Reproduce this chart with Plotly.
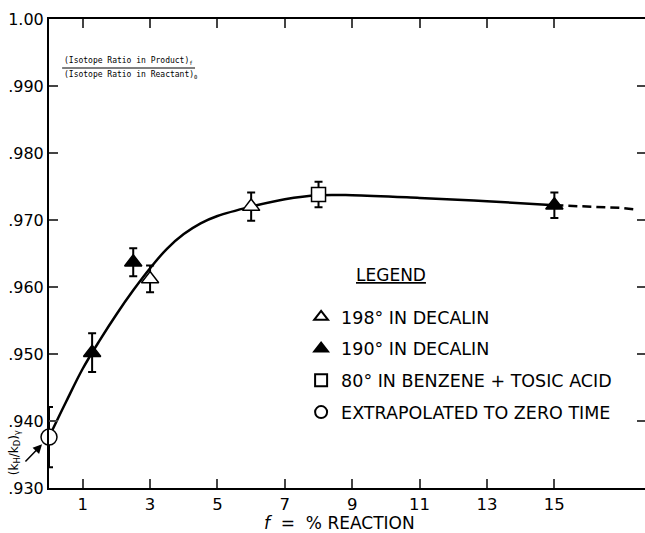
import plotly.graph_objects as go

# ---- data ----
x_198 = [3.0, 6.0]
y_198 = [0.9612, 0.9720]
e_198 = [0.0020, 0.0021]

x_190 = [1.28, 2.5, 15.0]
y_190 = [0.9502, 0.9637, 0.9722]
e_190 = [0.0029, 0.0021, 0.0019]

x_80 = [8.0]
y_80 = [0.9738]
e_80 = [0.0019]

x_ext = [0.0]
y_ext = [0.9376]
e_ext = [0.0045]

curve_x = [0.0, 0.5, 1.0, 1.5, 2.0, 2.5, 3.0, 3.5, 4.0, 4.5, 5.0, 6.0, 7.0, 8.0, 9.0, 11.0, 13.0, 15.0]
curve_y = [0.9376, 0.9428, 0.9478, 0.9520, 0.9559, 0.9595, 0.9628, 0.9657, 0.9679, 0.9695, 0.9706, 0.9720, 0.9731, 0.9737, 0.9737, 0.9733, 0.9728, 0.9722]
dash_x = [15.0, 16.0, 17.0, 17.35]
dash_y = [0.9722, 0.9720, 0.9718, 0.9716]

y_ticks = [0.930, 0.940, 0.950, 0.960, 0.970, 0.980, 0.990, 1.000]
y_ticklabels = [".930", ".940", ".950", ".960", ".970", ".980", ".990", "1.00"]
x_ticks = [1, 3, 5, 7, 9, 11, 13, 15]

names = ["198° IN DECALIN", "190° IN DECALIN", "80° IN BENZENE + TOSIC ACID", "EXTRAPOLATED TO ZERO TIME"]

FONT = "DejaVu Sans"

fig = go.Figure()

fig.add_trace(go.Scatter(x=curve_x, y=curve_y, mode="lines", line=dict(color="black", width=2.5, shape="spline"),
                         showlegend=False, hoverinfo="skip", cliponaxis=False))
fig.add_trace(go.Scatter(x=dash_x, y=dash_y, mode="lines", line=dict(color="black", width=2.5, dash="9px,5px"),
                         showlegend=False, hoverinfo="skip", cliponaxis=False))

def pts(x, y, e, name, symbol, fill, size, grp):
    return go.Scatter(
        x=x, y=y, mode="markers", name=name, legendgroup=grp,
        marker=dict(symbol=symbol, size=size, color=fill, line=dict(color="black", width=1.5)),
        error_y=dict(type="data", array=e, visible=True, color="black", thickness=2, width=4),
        cliponaxis=False,
    )

fig.add_trace(pts(x_198, y_198, e_198, names[0], "triangle-up", "white", 15, "a"))
fig.add_trace(pts(x_190, y_190, e_190, names[1], "triangle-up", "black", 15, "b"))
fig.add_trace(pts(x_80, y_80, e_80, names[2], "square", "white", 14, "c"))
fig.add_trace(pts(x_ext, y_ext, e_ext, names[3], "circle", "white", 16, "d"))

# invisible trace to carry right-hand ticks
fig.add_trace(go.Scatter(x=[None], y=[None], yaxis="y2", showlegend=False, hoverinfo="skip"))

fig.update_layout(
    width=645, height=533,
    margin=dict(l=49, r=0, t=19, b=45, autoexpand=False),
    paper_bgcolor="white", plot_bgcolor="white",
    font=dict(family=FONT, color="black", size=16),
    xaxis=dict(range=[0, 17.69], tickvals=x_ticks, ticks="inside", ticklen=9, tickwidth=1.5,
               showline=True, linecolor="black", linewidth=2, mirror="ticks", showgrid=False,
               zeroline=False, tickfont=dict(size=16.5, family=FONT), automargin=False),
    yaxis=dict(range=[0.930, 1.000], tickvals=y_ticks, ticktext=y_ticklabels, ticks="inside",
               ticklen=9, tickwidth=1.5, showline=True, linecolor="black", linewidth=2,
               showgrid=False, zeroline=False, tickfont=dict(size=16, family=FONT), automargin=False),
    yaxis2=dict(range=[0.930, 1.000], tickvals=y_ticks, overlaying="y", side="right",
                ticks="inside", ticklen=8, tickwidth=1.5, showline=False, showticklabels=False,
                showgrid=False, zeroline=False, automargin=False),
    legend=dict(x=0.423, y=0.403, xanchor="left", yanchor="top", bgcolor="rgba(0,0,0,0)",
                font=dict(size=17.5, family=FONT), tracegroupgap=6, itemsizing="constant"),
    showlegend=True,
)

# legend heading
fig.add_annotation(xref="paper", yref="paper", x=0.574, y=0.454, text="LEGEND", showarrow=False,
                   font=dict(size=17, family=FONT, lineposition="under"), xanchor="center", yanchor="middle")

# x axis title
fig.add_annotation(xref="paper", yref="paper", x=0.488, y=0, yshift=-35, text="<i>f</i>  =  % REACTION",
                   showarrow=False, font=dict(size=17, family=FONT), xanchor="center", yanchor="middle")

# top-left ratio label
fig.add_annotation(xref="paper", yref="paper", x=0.022, y=0.8965, text="(Isotope Ratio in Product)<sub>f</sub>",
                   showarrow=False, font=dict(size=8, family="DejaVu Sans Mono"), xanchor="left", yanchor="bottom")
fig.add_annotation(xref="paper", yref="paper", x=0.022, y=0.8945, text="(Isotope Ratio in Reactant)<sub>0</sub>",
                   showarrow=False, font=dict(size=8, family="DejaVu Sans Mono"), xanchor="left", yanchor="top")
fig.add_shape(type="line", xref="paper", yref="paper", x0=0.022, x1=0.245, y0=0.8955, y1=0.8955,
              line=dict(color="black", width=1))

# (kH/kD)γ label with arrow
fig.add_annotation(xref="paper", yref="paper", x=-0.058, y=0.075, text="(k<sub>H</sub>/k<sub>D</sub>)<sub>γ</sub>",
                   showarrow=False, textangle=-90, font=dict(size=12, family=FONT), xanchor="center", yanchor="middle")
fig.add_annotation(x=0, y=0.9376, ax=-25, ay=26, text="", showarrow=True, arrowhead=2, arrowsize=1.2,
                   arrowwidth=1.5, arrowcolor="black", standoff=10)

fig.write_html("out.html", config={"displayModeBar": False},
               post_script="document.body.style.margin='0px';document.body.style.overflow='hidden';")
